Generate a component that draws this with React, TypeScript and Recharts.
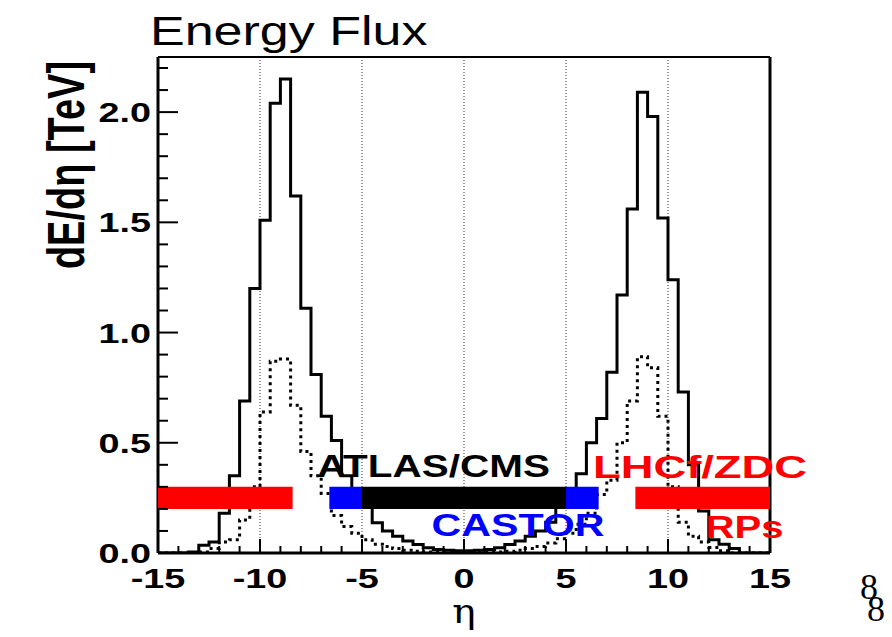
import React from "react";
import {
  ComposedChart,
  Line,
  XAxis,
  YAxis,
  ReferenceLine,
  ReferenceArea,
  ReferenceDot,
} from "recharts";

// histogram bins: 0.5 wide, from eta = -15 up to +15
const ETA_MIN = -15;
const ETA_MAX = 15;
const BIN_WIDTH = 0.5;
const FLUX_MAX = 2.25;

// dE/deta [TeV] per bin, solid histogram (all particles)
const totalFlux = [
  0, 0, 0, 0.005, 0.035, 0.05, 0.18, 0.35, 0.69, 1.2,
  1.51, 2.04, 2.15, 1.62, 1.11, 0.81, 0.62, 0.51, 0.35, 0.27,
  0.21, 0.137, 0.1, 0.076, 0.054, 0.039, 0.024, 0.016, 0.012, 0.01,
  0.01, 0.012, 0.016, 0.024, 0.039, 0.054, 0.076, 0.1, 0.14, 0.21,
  0.27, 0.36, 0.5, 0.61, 0.82, 1.17, 1.56, 2.09, 1.98, 1.52,
  1.24, 0.73, 0.4, 0.19, 0.06, 0.04, 0.02, 0, 0, 0,
];

// dotted histogram
const dottedFlux = [
  0, 0, 0, 0, 0.005, 0.02, 0.05, 0.06, 0.15, 0.3,
  0.64, 0.87, 0.88, 0.67, 0.46, 0.35, 0.27, 0.17, 0.12, 0.09,
  0.06, 0.04, 0.03, 0.02, 0.012, 0.008, 0.005, 0.005, 0.005, 0.005,
  0.005, 0.005, 0.005, 0.005, 0.008, 0.012, 0.02, 0.03, 0.045, 0.065,
  0.09, 0.13, 0.18, 0.265, 0.33, 0.5, 0.69, 0.89, 0.84, 0.62,
  0.3, 0.14, 0.076, 0.05, 0.025, 0.01, 0, 0, 0, 0,
];

const xTicks = [
  -15, -14, -13, -12, -11, -10, -9, -8, -7, -6, -5, -4, -3, -2, -1, 0,
  1, 2, 3, 4, 5, 6, 7, 8, 9, 10, 11, 12, 13, 14, 15,
];
const yTicks = [
  0, 0.1, 0.2, 0.3, 0.4, 0.5, 0.6, 0.7, 0.8, 0.9, 1.0, 1.1,
  1.2, 1.3, 1.4, 1.5, 1.6, 1.7, 1.8, 1.9, 2.0, 2.1, 2.2,
];
const gridEta = [-10, -5, 0, 5, 10];

// detector acceptance in eta, drawn as a band between 0.2 and 0.3 TeV
const DETECTOR_BAND = [0.2, 0.3];
const detectorRanges = [
  { name: "rp-left", from: -15, to: -8.4, color: "#ff0000" },
  { name: "castor-left", from: -6.6, to: -5, color: "#0000ff" },
  { name: "central", from: -5, to: 5, color: "#000000" },
  { name: "castor-right", from: 5, to: 6.6, color: "#0000ff" },
  { name: "rp-right", from: 8.4, to: 15, color: "#ff0000" },
];

const detectorLabels = [
  { text: "ATLAS/CMS", eta: -1.5, flux: 0.347, color: "#000000" },
  { text: "CASTOR", eta: 2.65, flux: 0.075, color: "#0000ff" },
  { text: "LHCf/ZDC", eta: 11.57, flux: 0.342, color: "#ff0000" },
  { text: "RPs", eta: 13.75, flux: 0.07, color: "#ff0000" },
];
const labelWidths: Record<string, number> = {
  "ATLAS/CMS": 233,
  CASTOR: 173,
  "LHCf/ZDC": 214,
  RPs: 78,
};

const SANS = "'Liberation Sans', Arial, Helvetica, sans-serif";
const SERIF = "'Liberation Serif', 'Times New Roman', serif";
const STRETCH = 1.35;

const rows = totalFlux.map((v, i) => ({
  eta: ETA_MIN + i * BIN_WIDTH,
  total: v,
  dotted: dottedFlux[i],
}));
rows.push({
  eta: ETA_MAX,
  total: totalFlux[totalFlux.length - 1],
  dotted: dottedFlux[dottedFlux.length - 1],
});

const isMultiple = (v: number, step: number) =>
  Math.abs(v / step - Math.round(v / step)) < 1e-6;

function XTick(props: any) {
  const { x, y, payload } = props;
  const v = payload.value as number;
  const major = isMultiple(v, 5);
  return (
    <g>
      <line x1={x} x2={x} y1={y} y2={y - (major ? 14 : 7)} stroke="#000" strokeWidth={2} />
      {major && (
        <text
          transform={`translate(${x},${y + 35}) scale(${STRETCH},1)`}
          textAnchor="middle"
          fontFamily={SANS}
          fontWeight="bold"
          fontSize={28}
          fill="#000"
        >
          {v}
        </text>
      )}
    </g>
  );
}

function YTick(props: any) {
  const { x, y, payload } = props;
  const v = payload.value as number;
  const major = isMultiple(v, 0.5);
  return (
    <g>
      <line x1={x} x2={x + (major ? 20 : 10)} y1={y} y2={y} stroke="#000" strokeWidth={2} />
      {major && (
        <text
          transform={`translate(${x - 7},${y + 10}) scale(${STRETCH},1)`}
          textAnchor="end"
          fontFamily={SANS}
          fontWeight="bold"
          fontSize={28}
          fill="#000"
        >
          {v.toFixed(1)}
        </text>
      )}
    </g>
  );
}

export default function App() {
  return (
    <div style={{ position: "absolute", left: 0, top: 0, width: 892, height: 637, background: "#fff" }}>
      <div
        style={{
          position: "absolute",
          left: 150,
          top: 11,
          fontFamily: SANS,
          fontSize: 40,
          lineHeight: "40px",
          transform: "scaleX(1.3)",
          transformOrigin: "left top",
          whiteSpace: "nowrap",
        }}
      >
        Energy Flux
      </div>
      <div style={{ position: "absolute", left: 860, top: 576, fontFamily: SERIF, fontSize: 36, lineHeight: "22px" }}>8</div>
      <div style={{ position: "absolute", left: 867, top: 598, fontFamily: SERIF, fontSize: 36, lineHeight: "22px" }}>8</div>
      <ComposedChart
        width={892}
        height={637}
        data={rows}
        margin={{ top: 57, right: 122, bottom: 34, left: 98 }}
      >
        <XAxis
          dataKey="eta"
          type="number"
          domain={[ETA_MIN, ETA_MAX]}
          ticks={xTicks}
          interval={0}
          allowDataOverflow
          height={50}
          tickSize={0}
          tickMargin={0}
          tickLine={false}
          axisLine={{ stroke: "#000", strokeWidth: 3 }}
          tick={<XTick />}
          label={{
            content: (p: any) => {
              const vb = p.viewBox;
              return (
                <text
                  transform={`translate(${vb.x + vb.width / 2},${vb.y + 70}) scale(1.15,1)`}
                  textAnchor="middle"
                  fontFamily="'DejaVu Serif', serif"
                  fontSize={34}
                  fill="#000"
                >
                  η
                </text>
              );
            },
          }}
        />
        <YAxis
          type="number"
          domain={[0, FLUX_MAX]}
          ticks={yTicks}
          interval={0}
          allowDataOverflow
          width={60}
          tickSize={0}
          tickMargin={0}
          tickLine={false}
          axisLine={{ stroke: "#000", strokeWidth: 3 }}
          tick={<YTick />}
          label={{
            content: (p: any) => {
              const vb = p.viewBox;
              return (
                <text
                  transform={`translate(${vb.x - 14},${vb.y + 108}) rotate(-90) scale(1,${STRETCH})`}
                  textAnchor="middle"
                  fontFamily={SANS}
                  fontWeight="bold"
                  fontSize={38}
                  fill="#000"
                >
                  dE/dη [TeV]
                </text>
              );
            },
          }}
        />
        {gridEta.map((e) => (
          <ReferenceLine key={e} x={e} stroke="#333" strokeWidth={1} strokeDasharray="1 2" />
        ))}
        <ReferenceLine y={FLUX_MAX} stroke="#000" strokeWidth={2} />
        <ReferenceLine x={ETA_MAX} stroke="#000" strokeWidth={3} />
        <Line
          type="stepAfter"
          dataKey="dotted"
          stroke="#000"
          strokeWidth={3}
          strokeDasharray="3 4"
          dot={false}
          activeDot={false}
          isAnimationActive={false}
        />
        <Line
          type="stepAfter"
          dataKey="total"
          stroke="#000"
          strokeWidth={3}
          strokeLinejoin="miter"
          dot={false}
          activeDot={false}
          isAnimationActive={false}
        />
        {detectorRanges.map((d) => (
          <ReferenceArea
            key={d.name}
            x1={d.from}
            x2={d.to}
            y1={DETECTOR_BAND[0]}
            y2={DETECTOR_BAND[1]}
            fill={d.color}
            fillOpacity={1}
            stroke="none"
            zIndex={1000}
          />
        ))}
        {detectorLabels.map((l) => (
          <ReferenceDot
            key={l.text}
            x={l.eta}
            y={l.flux}
            r={0}
            fill="none"
            stroke="none"
            zIndex={1100}
            label={{
              content: (p: any) => {
                const vb = p.viewBox;
                return (
                  <text
                    x={vb.x + vb.width / 2}
                    y={vb.y + vb.height / 2}
                    textAnchor="middle"
                    fontFamily={SANS}
                    fontWeight="bold"
                    fontSize={31}
                    fill={l.color}
                    textLength={labelWidths[l.text]}
                    lengthAdjust="spacingAndGlyphs"
                  >
                    {l.text}
                  </text>
                );
              },
            }}
          />
        ))}
      </ComposedChart>
    </div>
  );
}
